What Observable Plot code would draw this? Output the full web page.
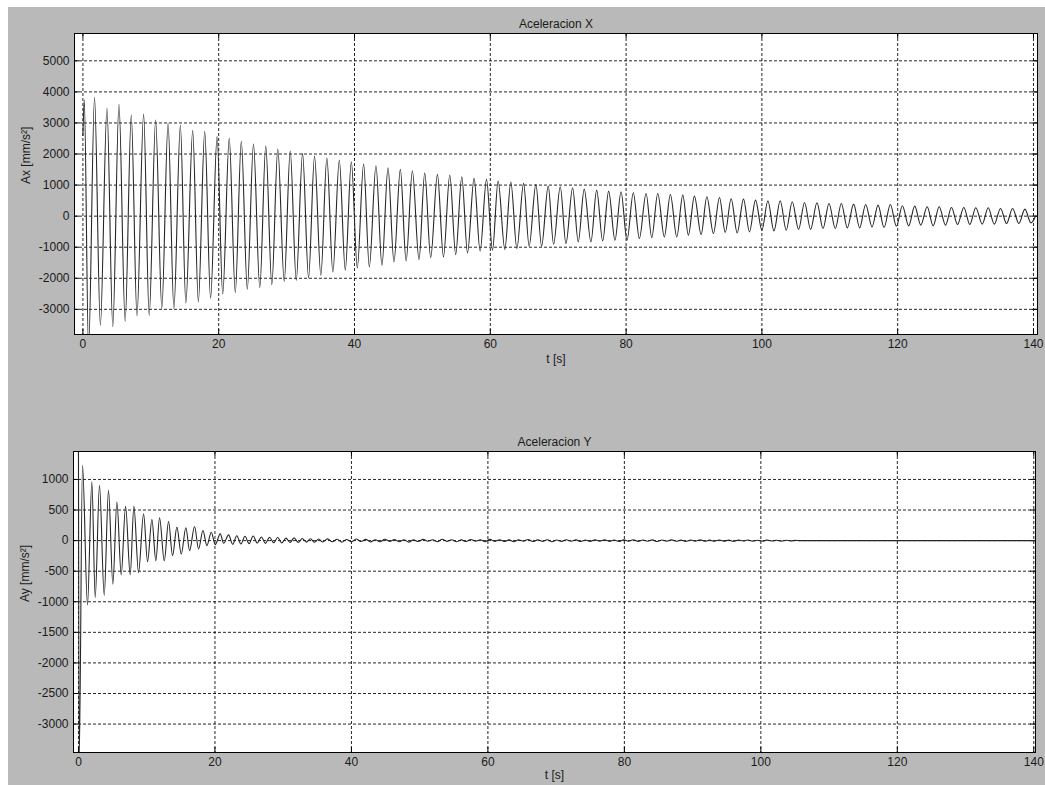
<!DOCTYPE html>
<html><head><meta charset="utf-8">
<script src="https://cdn.jsdelivr.net/npm/d3@7"></script>
<script src="https://cdn.jsdelivr.net/npm/@observablehq/plot@0.6"></script>
<style>
html,body{margin:0;padding:0;background:#fff;overflow:hidden;}
#fig{position:absolute;left:8px;top:7px;width:1037px;height:778px;background:#b9b9b9;overflow:hidden;}
#fig svg{display:block;}
</style></head><body><div id="fig"></div>
<script>
// Tick labels
const xTicks = [0, 20, 40, 60, 80, 100, 120, 140];
const yTicksX = [-3000, -2000, -1000, 0, 1000, 2000, 3000, 4000, 5000];
const yTicksY = [-3000, -2500, -2000, -1500, -1000, -500, 0, 500, 1000];

// Aceleracion X: successive extremes (time s, value mm/s^2)
const xTime = [0.0,0.2,0.83,1.71,2.57,3.54,4.4,5.31,6.22,7.12,7.96,8.94,9.76,10.71,11.62,12.54,13.4,14.35,15.16,16.17,17.0,17.94,18.8,19.76,20.59,21.55,22.44,23.33,24.21,25.12,26.05,26.93,27.82,28.7,29.65,30.53,31.42,32.35,33.23,34.11,35.04,35.93,36.81,37.76,38.64,39.53,40.41,41.34,42.18,43.16,44.04,44.93,45.81,46.75,47.6,48.52,49.5,50.34,51.22,52.21,53.1,54.03,54.9,55.8,56.64,57.61,58.5,59.44,60.32,61.15,62.14,63.02,63.91,64.9,65.72,66.71,67.55,68.53,69.32,70.3,71.14,72.12,72.95,73.83,74.82,75.66,76.55,77.43,78.36,79.25,80.13,81.06,81.95,82.94,83.78,84.66,85.63,86.52,87.46,88.35,89.17,90.06,91.05,91.89,92.86,93.75,94.6,95.47,96.36,97.29,98.17,99.06,100.0,100.88,101.77,102.7,103.58,104.47,105.4,106.28,107.17,108.11,109.0,109.88,110.81,111.7,112.58,113.51,114.4,115.28,116.22,117.11,117.99,118.92,119.81,120.69,121.62,122.51,123.4,124.34,125.22,126.11,127.04,127.92,128.81,129.74,130.62,131.5,132.45,133.33,134.22,135.15,136.03,136.92,137.85,138.73,139.62,140.3];
const xAccel = [2600,3740,-4300,3830,-3515,3473,-3555,3602,-3380,3258,-3210,3290,-3200,3097,-2970,2989,-2980,2925,-2800,2753,-2760,2720,-2645,2559,-2510,2505,-2460,2409,-2350,2323,-2300,2258,-2204,2161,-2097,2097,-2065,2022,-1989,1935,-1903,1882,-1796,1806,-1742,1752,-1667,1677,-1634,1624,-1581,1559,-1473,1505,-1440,1462,-1398,1398,-1333,1344,-1312,1323,-1237,1269,-1183,1215,-1129,1183,-1097,1129,-1075,1097,-1043,1054,-968,1022,-968,968,-903,946,-882,914,-828,871,-828,839,-796,806,-774,785,-774,753,-720,731,-688,731,-667,699,-667,677,-613,645,-591,624,-559,602,-520,560,-538,548,-505,516,-452,495,-473,495,-452,462,-430,441,-430,430,-398,409,-398,409,-376,387,-376,376,-344,355,-366,376,-323,333,-312,323,-290,301,-312,301,-290,280,-269,280,-269,269,-258,269,-258,247,-237,247,-237,226,-215,0];

// Aceleracion Y: successive extremes (time s, value mm/s^2)
const yTime = [0.0,0.1,0.59,1.32,1.96,2.45,3.08,3.77,4.4,5.04,5.63,6.26,6.9,7.58,8.12,8.8,9.54,10.12,10.76,11.34,11.88,12.57,13.2,13.79,14.42,15.06,15.74,16.28,17.01,17.6,18.24,18.82,19.46,20.04,20.78,21.27,22.0,22.6,23.2,23.8,24.4,25.0,25.6,26.2,26.8,27.4,28.0,28.6,29.2,29.8,30.4,31.0,31.6,32.2,32.8,33.4,34.0,34.6,35.2,35.8,36.5,37.2,37.9,38.6,39.3,40.0,40.7,41.4,42.1,42.8,43.5,44.2,44.9,45.6,46.3,47.0,47.7,48.4,49.1,49.8,50.5,51.2,51.9,52.6,53.3,54.0,54.7,55.4,56.1,56.8,57.5,58.2,58.9,59.6,60.3,61.0,61.7,62.4,63.1,63.8,64.5,65.2,65.9,66.6,67.3,68.0,68.7,69.4,70.1,70.8,71.5,72.2,72.9,73.6,74.3,75.0,75.7,76.4,77.1,77.8,78.5,79.2,79.9,80.6,81.3,82.0,82.7,83.4,84.1,84.8,85.5,86.2,86.9,87.6,88.3,89.0,89.7,90.4,91.1,91.8,92.5,93.2,93.9,94.6,95.3,96.0,96.7,97.4,98.1,98.8,99.5,100.2,100.9,101.6,102.3,103.0,103.7,104.4,105.1,105.6,140.3];
const yAccel = [1480,-3600,1236,-1054,961,-934,906,-895,824,-714,632,-560,560,-560,560,-522,439,-346,346,-330,373,-330,313,-247,220,-220,209,-165,231,-137,165,-82,137,-66,110,-44,93,-60,80,-55,70,-50,75,-40,60,-45,55,-35,50,-40,40,-30,45,-30,35,-25,30,-28,25,-22,28,-20,22,-25,18,-20,25,-15,20,-22,15,-18,22,-12,18,-20,15,-25,12,-15,20,-10,15,-18,22,-12,15,-20,12,-15,18,-10,15,-18,20,-12,15,-15,12,-18,15,-10,18,-15,12,-12,15,-18,10,-12,15,-10,12,-15,10,-12,15,-10,12,-12,10,-15,12,-10,15,-12,10,-10,12,-15,10,-8,12,-10,8,-12,10,-8,12,-10,8,-10,10,-8,8,-10,8,-6,10,-8,6,-8,8,-6,6,-8,6,-5,4,0,0];

const FONT = "'Liberation Sans', Arial, Helvetica, sans-serif";

function panel({time, accel, width, height, mt, mb, ml, mr, xDomain, yDomain, yTicks, title, ylabel, xlabelDy}) {
  const data = time.map((t, i) => ({t, a: accel[i]}));
  const pw = width - ml - mr, ph = height - mt - mb;
  const grid = {stroke: "#000", strokeOpacity: 0.85, strokeDasharray: "3,2"};
  const fmt = d => String(d);
  return Plot.plot({
    width, height,
    marginTop: mt, marginBottom: mb, marginLeft: ml, marginRight: mr,
    style: {background: "#b9b9b9", fontFamily: FONT, fontSize: "12px", color: "#1a1a1a", overflow: "visible"},
    x: {domain: xDomain},
    y: {domain: yDomain},
    marks: [
      Plot.frame({fill: "white", stroke: "none"}),
      Plot.gridX(xTicks, grid),
      Plot.gridY(yTicks, grid),
      Plot.tickY(yTicks, {y: d => d, insetRight: pw - 5, stroke: "#000"}),
      Plot.tickY(yTicks, {y: d => d, insetLeft: pw - 5, stroke: "#000"}),
      Plot.tickX(xTicks, {x: d => d, insetTop: ph - 5, stroke: "#000"}),
      Plot.tickX(xTicks, {x: d => d, insetBottom: ph - 5, stroke: "#000"}),
      Plot.line(data, {x: "t", y: "a", curve: "monotone-x", stroke: "#262626", strokeWidth: 1.1, clip: true}),
      Plot.frame({stroke: "#000", strokeWidth: 1}),
      Plot.axisX(xTicks, {tickSize: 0, tickPadding: 5, label: null, tickFormat: fmt, fill: "#1a1a1a", fontSize: 12}),
      Plot.axisY(yTicks, {tickSize: 0, tickPadding: 5, label: null, tickFormat: fmt, fill: "#1a1a1a", fontSize: 12}),
      Plot.text([title], {text: d => d, frameAnchor: "top", dy: -14, fill: "#1a1a1a", fontSize: 12}),
      Plot.text(["t [s]"], {text: d => d, frameAnchor: "bottom", dy: xlabelDy, fill: "#1a1a1a", fontSize: 12}),
      Plot.text([ylabel], {text: d => d, frameAnchor: "left", dx: -48, rotate: -90, fill: "#1a1a1a", fontSize: 12})
    ]
  });
}

const fig = document.getElementById("fig");
fig.append(panel({
  time: xTime, accel: xAccel, width: 1037, height: 390,
  mt: 26, mb: 63, ml: 66, mr: 8,
  xDomain: [-1.24, 140.59], yDomain: [-3810, 5880], yTicks: yTicksX,
  title: "Aceleracion X", ylabel: "Ax [mm/s²]", xlabelDy: 28
}));
fig.append(panel({
  time: yTime, accel: yAccel, width: 1037, height: 388,
  mt: 54, mb: 33, ml: 65, mr: 10,
  xDomain: [-0.73, 140.25], yDomain: [-3465, 1457], yTicks: yTicksY,
  title: "Aceleracion Y", ylabel: "Ay [mm/s²]", xlabelDy: 26
}));
</script>
</body></html>
